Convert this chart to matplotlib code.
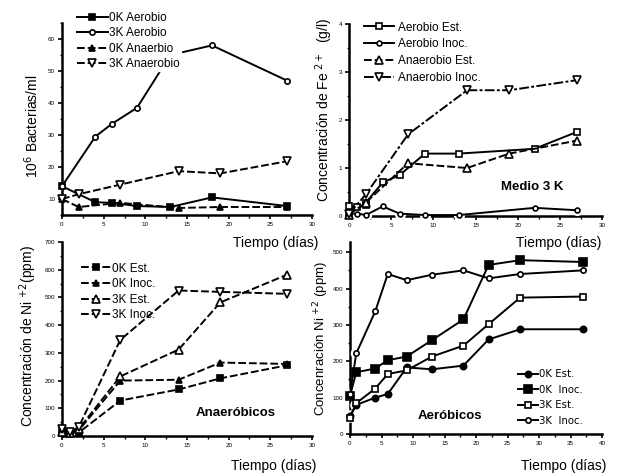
import numpy as np
import matplotlib
matplotlib.use("Agg")
import matplotlib.pyplot as plt
from matplotlib.ticker import MultipleLocator

# ---- Bacterias (panel superior izquierdo)
t_0k_aer = [0, 4, 6, 9, 13, 18, 27]
v_0k_aer = [14, 9, 8.8, 7.8, 7.5, 10.5, 7.8]
t_3k_aer = [0, 4, 6, 9, 13, 18, 27]
v_3k_aer = [14, 29.5, 33.5, 38.5, 55, 58, 47]
t_0k_ana = [0, 2, 7, 14, 19, 27]
v_0k_ana = [10, 7.5, 8.8, 7.2, 7.5, 7.5]
t_3k_ana = [0, 2, 7, 14, 19, 27]
v_3k_ana = [10, 11.5, 14.5, 18.7, 18, 21.8]

# ---- Fe2+ medio 3K (panel superior derecho)
t_fe_aer_est = [0, 0, 1, 2, 2, 4, 6, 9, 13, 22, 27]
v_fe_aer_est = [0.05, 0.2, 0.18, 0.22, 0.28, 0.7, 0.85, 1.3, 1.3, 1.4, 1.75]
t_fe_aer_inoc = [0, 1, 2, 4, 6, 9, 13, 22, 27]
v_fe_aer_inoc = [0.05, 0.05, 0.02, 0.2, 0.05, 0.02, 0.02, 0.17, 0.12]
t_fe_ana_est = [0, 2, 7, 9, 14, 19, 27]
v_fe_ana_est = [0.03, 0.28, 1.1, 1.07, 1.0, 1.3, 1.57]
t_fe_ana_inoc = [0, 2, 7, 14, 19, 27]
v_fe_ana_inoc = [0.05, 0.45, 1.7, 2.62, 2.62, 2.83]

# ---- Ni+2 anaerobicos (panel inferior izquierdo)
t_ana = [0, 1, 2, 7, 14, 19, 27]
ni_ana_0k_est = [20, 12, 12, 128, 168, 208, 255]
ni_ana_0k_inoc = [20, 15, 20, 200, 203, 265, 260]
ni_ana_3k_est = [15, 12, 25, 215, 312, 482, 582]
ni_ana_3k_inoc = [25, 15, 32, 347, 525, 520, 513]

# ---- Ni+2 aerobicos (panel inferior derecho)
t_aer = [0, 1, 4, 6, 9, 13, 18, 22, 27, 37]
ni_aer_0k_est = [50, 80, 100, 110, 183, 178, 188, 260, 288, 288]
ni_aer_0k_inoc = [105, 170, 180, 203, 213, 258, 315, 465, 478, 473]
ni_aer_3k_est = [45, 85, 125, 165, 175, 213, 243, 302, 375, 378]
ni_aer_3k_inoc = [110, 222, 337, 440, 423, 438, 450, 428, 440, 450]

SANS = ['Liberation Sans', 'DejaVu Sans']
plt.rcParams['font.family'] = SANS

fig = plt.figure(figsize=(6.19, 4.76), dpi=100)
W, H = 619.0, 476.0


def make_ax(x0, x1, ybot, ytop):
    ax = fig.add_axes([x0 / W, 1 - ybot / H, (x1 - x0) / W, (ybot - ytop) / H])
    for s in ['top', 'right']:
        ax.spines[s].set_visible(False)
    for s in ['left', 'bottom']:
        ax.spines[s].set_linewidth(1.8)
    ax.tick_params(which='major', length=3, width=1.2, labelsize=4.5, pad=2)
    ax.tick_params(which='minor', length=1.8, width=1)
    ax.patch.set_alpha(0)
    return ax


def curve(ax, x, y, marker, fill, ls, ms=5, gap=False, label=None, markevery=None):
    mfc = 'black' if fill else 'white'
    dashes = {'-': (None, None), '--': (4, 1.5), '-.': (5, 1.2, 1.5, 1.2)}[ls]
    line, = ax.plot(x, y, color='black', lw=1.4, marker=marker, ms=ms,
                    mfc=mfc, mec='black', mew=1.2, label=label,
                    clip_on=False, zorder=3, markevery=markevery)
    if ls != '-':
        line.set_dashes(dashes)
    if gap:
        ax.plot(x, y, ls='none', marker=marker, ms=ms + 3.5, mfc='white',
                mec='white', clip_on=False, zorder=2.9)
    return line


# ===== Panel 1
ax1 = make_ax(62, 312, 215, 23)
curve(ax1, t_0k_aer, v_0k_aer, 's', True, '-', ms=5, label='0K Aerobio')
curve(ax1, t_3k_aer, v_3k_aer, 'o', False, '-', ms=3.8, label='3K Aerobio')
curve(ax1, t_0k_ana, v_0k_ana, '^', True, '--', ms=5, label='0K Anaerbio')
curve(ax1, t_3k_ana, v_3k_ana, 'v', False, '--', ms=5.5, label='3K Anaerobio')
ax1.set_xlim(0, 30)
ax1.set_ylim(5, 65)
ax1.xaxis.set_major_locator(MultipleLocator(5))
ax1.xaxis.set_minor_locator(MultipleLocator(2.5))
ax1.yaxis.set_minor_locator(MultipleLocator(5))
ax1.set_yticks([10, 20, 30, 40, 50, 60])
leg1 = ax1.legend(loc='upper left', bbox_to_anchor=(70 / W, 1 - 5 / H),
                  bbox_transform=fig.transFigure, frameon=True, framealpha=1,
                  edgecolor='white', fancybox=False, borderpad=0.1,
                  handlelength=2.6, handletextpad=0.1, labelspacing=0.28,
                  prop={'size': 8.5}, numpoints=1)
leg1.set_zorder(5)
fig.text(32 / W, 1 - 126 / H, r'10$^6$ Bacterias/ml', rotation=90,
         ha='center', va='center', fontsize=10)

# ===== Panel 2
ax2 = make_ax(349, 602, 216, 24)
curve(ax2, t_fe_aer_est, v_fe_aer_est, 's', False, '-', ms=5, label='Aerobio Est.')
curve(ax2, t_fe_aer_inoc, v_fe_aer_inoc, 'o', False, '-', ms=3.5, gap=True,
      label='Aerobio Inoc.')
curve(ax2, t_fe_ana_est, v_fe_ana_est, '^', False, '--', ms=5.5,
      label='Anaerobio Est.', markevery=[0, 1, 2, 4, 5, 6])
curve(ax2, t_fe_ana_inoc, v_fe_ana_inoc, 'v', False, '-.', ms=5.5,
      label='Anaerobio Inoc.')
ax2.set_xlim(0, 30)
ax2.set_ylim(0, 4)
ax2.xaxis.set_major_locator(MultipleLocator(5))
ax2.xaxis.set_minor_locator(MultipleLocator(2.5))
ax2.yaxis.set_major_locator(MultipleLocator(1))
ax2.yaxis.set_minor_locator(MultipleLocator(0.5))
ax2.legend(loc='upper left', bbox_to_anchor=(353 / W, 1 - 11 / H),
           bbox_transform=fig.transFigure, frameon=False,
           handlelength=2.6, handletextpad=0.3, labelspacing=0.4,
           prop={'size': 8.5}, numpoints=1)
ax2.text(532 / W, 1 - 187 / H, 'Medio 3 K', transform=fig.transFigure,
         ha='center', va='center', fontsize=9.5, fontweight='bold')
fig.text(324 / W, 1 - 110 / H, r'Concentración de Fe $^{2+}$  (g/l)',
         rotation=90, ha='center', va='center', fontsize=10)

# ===== Panel 3
ax3 = make_ax(62, 312, 436, 242)
curve(ax3, t_ana, ni_ana_0k_est, 's', True, '--', ms=5, label='0K Est.')
curve(ax3, t_ana, ni_ana_0k_inoc, '^', True, '--', ms=4.2, label='0K Inoc.')
curve(ax3, t_ana, ni_ana_3k_est, '^', False, '--', ms=5.5, label='3K Est.')
curve(ax3, t_ana, ni_ana_3k_inoc, 'v', False, '--', ms=5.5, label='3K Inoc.')
ax3.set_xlim(0, 30)
ax3.set_ylim(0, 700)
ax3.xaxis.set_major_locator(MultipleLocator(5))
ax3.xaxis.set_minor_locator(MultipleLocator(2.5))
ax3.yaxis.set_major_locator(MultipleLocator(100))
ax3.yaxis.set_minor_locator(MultipleLocator(50))
ax3.legend(loc='upper left', bbox_to_anchor=(70 / W, 1 - 252 / H),
           bbox_transform=fig.transFigure, frameon=False,
           handlelength=2.6, handletextpad=0.1, labelspacing=0.3,
           prop={'size': 8.5}, numpoints=1)
ax3.text(236 / W, 1 - 413 / H, 'Anaeróbicos', transform=fig.transFigure,
         ha='center', va='center', fontsize=9.5, fontweight='bold')
fig.text(28 / W, 1 - 336 / H, r'Concentración de Ni $^{+2}$(ppm)',
         rotation=90, ha='center', va='center', fontsize=10)

# ===== Panel 4
ax4 = make_ax(350, 602, 434, 242)
curve(ax4, t_aer, ni_aer_0k_est, 'o', True, '-', ms=4.5, gap=True, label='0K Est.')
curve(ax4, t_aer, ni_aer_0k_inoc, 's', True, '-', ms=5.8, label='0K  Inoc.')
curve(ax4, t_aer, ni_aer_3k_est, 's', False, '-', ms=5, label='3K Est.')
curve(ax4, t_aer, ni_aer_3k_inoc, 'o', False, '-', ms=3.8, gap=True,
      label='3K  Inoc.')
ax4.set_xlim(0, 40)
ax4.set_ylim(0, 528)
ax4.xaxis.set_major_locator(MultipleLocator(5))
ax4.xaxis.set_minor_locator(MultipleLocator(2.5))
ax4.yaxis.set_major_locator(MultipleLocator(100))
ax4.yaxis.set_minor_locator(MultipleLocator(50))
ax4.legend(loc='upper left', bbox_to_anchor=(509 / W, 1 - 360 / H),
           bbox_transform=fig.transFigure, frameon=False,
           handlelength=2.0, handletextpad=0.1, labelspacing=0.55,
           prop={'family': 'DejaVu Sans', 'size': 7.3}, numpoints=1)
ax4.text(450 / W, 1 - 416 / H, 'Aeróbicos', transform=fig.transFigure,
         ha='center', va='center', fontsize=9.5, fontweight='bold')
fig.text(321 / W, 1 - 338 / H, r'Concenración Ni $^{+2}$ (ppm)',
         rotation=90, ha='center', va='center', fontsize=9.5)

# ===== Etiquetas de tiempo
for xr, yc in [(318, 243), (601, 243), (316, 466), (606, 466)]:
    fig.text(xr / W, 1 - yc / H, 'Tiempo (días)', ha='right', va='center',
             fontsize=10)

fig.savefig('out.png', dpi=100)
